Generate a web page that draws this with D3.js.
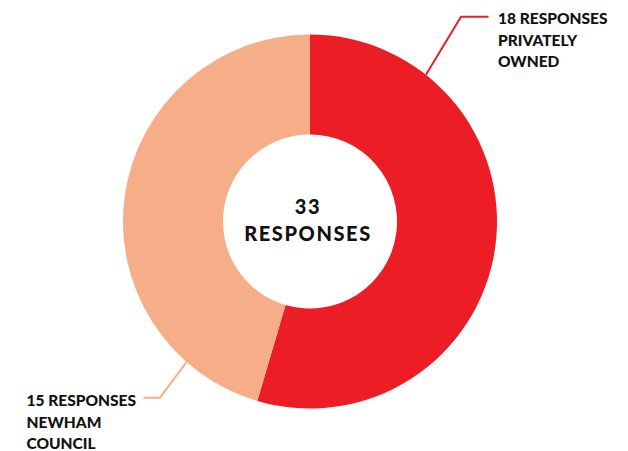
<!DOCTYPE html>
<html>
<head>
<meta charset="utf-8">
<script src="https://cdn.jsdelivr.net/npm/d3@7"></script>
<style>
  html, body { margin: 0; padding: 0; background: #fff; }
  svg { display: block; }
  text { font-family: Lato, "Open Sans", sans-serif; font-weight: 900; fill: #111; }
</style>
</head>
<body>
<svg id="chart" width="628" height="451"></svg>
<script>
// Survey responses by landlord type
const categories = ["PRIVATELY OWNED", "NEWHAM COUNCIL"];
const responses = [18, 15];
const colors = ["#ec1d25", "#f6ae88"];
const totalLabel = ["33", "RESPONSES"];

const width = 628, height = 451;
const cx = 310, cy = 221.5;
const outerR = 187, innerR = 87;

const svg = d3.select("#chart");
const g = svg.append("g").attr("transform", `translate(${cx},${cy})`);

const pie = d3.pie().sort(null).value(d => d.value);
const arcs = pie(categories.map((c, i) => ({ name: c, value: responses[i], color: colors[i] })));
const arc = d3.arc().innerRadius(innerR).outerRadius(outerR);

g.selectAll("path.slice")
  .data(arcs)
  .join("path")
  .attr("class", "slice")
  .attr("d", arc)
  .attr("fill", d => d.data.color);

// Callout leaders: start on the outer rim, bend, then run horizontally to the label
const callouts = [
  { angle: 38.3, elbow: [461, 16.7], end: [488.5, 16.7], label: [498, 24], anchor: "start" },
  { angle: 221.3, elbow: [160, 397.7], end: [143.5, 397.7], label: [26.5, 406], anchor: "start" }
];

arcs.forEach((a, i) => {
  const c = callouts[i];
  const t = c.angle * Math.PI / 180;
  const start = [cx + outerR * Math.sin(t), cy - outerR * Math.cos(t)];
  svg.append("path")
    .attr("d", d3.line()([start, c.elbow, c.end]))
    .attr("fill", "none")
    .attr("stroke", a.data.color)
    .attr("stroke-width", 2);

  const lines = [`${a.data.value} RESPONSES`].concat(a.data.name.split(" "));
  const txt = svg.append("text")
    .attr("x", c.label[0])
    .attr("y", c.label[1])
    .attr("text-anchor", c.anchor)
    .style("font-size", "15.5px");
  lines.forEach((l, j) => {
    txt.append("tspan")
      .attr("x", c.label[0])
      .attr("y", c.label[1] + j * 21.5)
      .text(l);
  });
});

// Total in the centre hole
const centre = svg.append("text")
  .attr("text-anchor", "middle")
  .style("font-size", "20px")
  .style("letter-spacing", "1.6px");
centre.append("tspan").attr("x", cx - 2).attr("y", 213.5).text(totalLabel[0]);
centre.append("tspan").attr("x", cx - 2).attr("y", 241).text(totalLabel[1]);
</script>
</body>
</html>
